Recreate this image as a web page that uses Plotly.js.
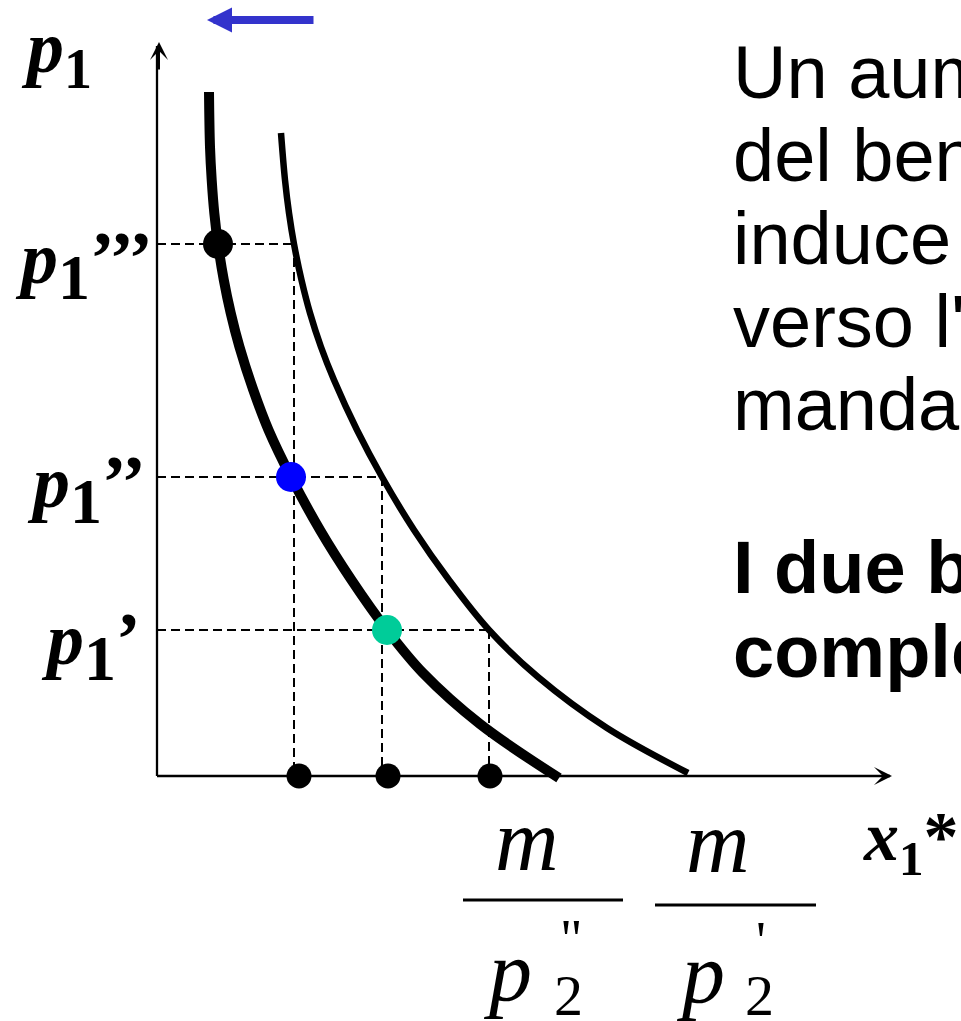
<!DOCTYPE html>
<html>
<head>
<meta charset="utf-8">
<script src="https://cdn.plot.ly/plotly-3.0.1.min.js"></script>
<style>
  html, body { margin: 0; padding: 0; background: #ffffff; overflow: hidden; }
  #chart { width: 961px; height: 1021px; }
</style>
</head>
<body>
<div id="chart"></div>
<script>
// Price levels of good 1: p1', p1'', p1'''
const priceLevels = [1.46, 2.99, 5.32];
// Quantity of good 1 demanded on the original curve (price of good 2 = p2')
const demandOld = [3.32, 2.25, 1.37];
// Quantity of good 1 demanded on the shifted curve (price of good 2 = p2'')
const demandNew = [2.30, 1.34, 0.61];
// Quantities marked on the horizontal axis
const axisQuantities = [1.42, 2.31, 3.33];
// Colours of the optima on the shifted curve (p1', p1'', p1''')
const optimumColors = ['#00CC99', '#0000FF', '#000000'];

// Demand curve of good 1 with p2' (thin)
const oldCurveX = [1.24, 1.28, 1.32, 1.37, 1.445, 1.53, 1.64, 1.77, 2.00, 2.25, 2.57, 2.92, 3.32, 3.81, 4.50, 5.31];
const oldCurveY = [6.43, 5.96, 5.63, 5.32, 4.96, 4.63, 4.29, 3.96, 3.46, 2.99, 2.46, 1.96, 1.46, 0.99, 0.48, 0.03];
// Demand curve of good 1 with p2'' > p2' (thick)
const newCurveX = [0.52, 0.53, 0.547, 0.573, 0.61, 0.668, 0.737, 0.825, 0.963, 1.115, 1.34, 1.63, 1.945, 2.30, 2.66, 3.23, 4.02];
const newCurveY = [6.84, 6.29, 5.96, 5.63, 5.32, 4.96, 4.63, 4.29, 3.86, 3.46, 2.99, 2.46, 1.96, 1.46, 1.03, 0.52, -0.02];

// Axis extents
const xAxisEnd = 7.33;
const yAxisEnd = 7.30;

const serif = 'Liberation Serif, Times New Roman, serif';
const sans = 'Liberation Sans, Arial, sans-serif';

const traces = [
  {
    x: oldCurveX, y: oldCurveY, type: 'scatter', mode: 'lines',
    line: { color: '#000000', width: 6.5, shape: 'spline', smoothing: 1 },
    hoverinfo: 'skip'
  },
  {
    x: newCurveX, y: newCurveY, type: 'scatter', mode: 'lines',
    line: { color: '#000000', width: 10, shape: 'spline', smoothing: 1 },
    hoverinfo: 'skip'
  },
  {
    x: axisQuantities, y: axisQuantities.map(() => 0), type: 'scatter', mode: 'markers',
    marker: { color: '#000000', size: 25 }, cliponaxis: false, hoverinfo: 'skip'
  },
  {
    x: demandNew, y: priceLevels, type: 'scatter', mode: 'markers',
    marker: { color: optimumColors, size: 30 }, cliponaxis: false, hoverinfo: 'skip'
  }
];

// Dashed guides: price level across to the original curve, then down to the axis
const dash = { color: '#000000', width: 2, dash: '9px,5px' };
const shapes = [];
priceLevels.forEach((p, i) => {
  shapes.push({ type: 'line', xref: 'x', yref: 'y', x0: 0, y0: p, x1: demandOld[i], y1: p, line: dash, layer: 'below' });
  shapes.push({ type: 'line', xref: 'x', yref: 'y', x0: demandOld[i], y0: p, x1: demandOld[i], y1: 0, line: dash, layer: 'below' });
});
// Axes
shapes.push({ type: 'line', xref: 'x', yref: 'y', x0: 0, y0: 0, x1: xAxisEnd, y1: 0, line: { color: '#000', width: 2.3 } });
shapes.push({ type: 'line', xref: 'x', yref: 'y', x0: 0, y0: 0, x1: 0, y1: yAxisEnd, line: { color: '#000', width: 2.3 } });
// Fraction bars under m
shapes.push({ type: 'line', xref: 'x', yref: 'y', x0: 3.06, y0: -1.24, x1: 4.66, y1: -1.24, line: { color: '#000', width: 3 } });
shapes.push({ type: 'line', xref: 'x', yref: 'y', x0: 4.98, y0: -1.29, x1: 6.59, y1: -1.29, line: { color: '#000', width: 3 } });

function label(text, x, y, size, family, xanchor, color) {
  return {
    text: text, x: x, y: y, xref: 'x', yref: 'y', showarrow: false,
    xanchor: xanchor || 'center', yanchor: 'middle',
    font: { family: family, size: size, color: color || '#000000' }
  };
}

// bold italic p with a bold subscript 1
const p1 = (subSize) => '<i>p</i><sub><span style="font-size:' + subSize + 'px">1</span></sub>';

const annotations = [
  // axis arrowheads
  { x: 0.02, y: 7.34, ax: 0.02, ay: 7.05, xref: 'x', yref: 'y', axref: 'x', ayref: 'y', text: '',
    showarrow: true, arrowhead: 3, arrowsize: 1.5, arrowwidth: 2, arrowcolor: '#000', standoff: 0 },
  { x: 7.35, y: 0, ax: 7.05, ay: 0, xref: 'x', yref: 'y', axref: 'x', ayref: 'y', text: '',
    showarrow: true, arrowhead: 3, arrowsize: 1.5, arrowwidth: 2, arrowcolor: '#000', standoff: 0 },
  // leftward shift arrow
  { x: 0.50, y: 7.56, ax: 1.58, ay: 7.56, xref: 'x', yref: 'y', axref: 'x', ayref: 'y', text: '',
    showarrow: true, arrowhead: 2, arrowsize: 0.625, arrowwidth: 8, arrowcolor: '#3333CC', standoff: 0 },

  // axis titles and price levels
  label('<b>' + p1(56) + '</b>', -1.38, 7.23, 74, serif, 'left'),
  label('<b>' + p1(64) + '’’’</b>', -0.02, 5.11, 74, serif, 'right'),
  label('<b>' + p1(64) + '’’</b>', -0.09, 2.87, 74, serif, 'right'),
  label('<b>' + p1(64) + '’</b>', -0.14, 1.30, 74, serif, 'right'),
  label('<b><i>x</i><sub>1</sub>*</b>', 7.04, -0.66, 70, serif, 'left'),

  // m / p2''
  label('<i>m</i>', 3.70, -0.64, 88, serif),
  label('<i>p</i>', 3.50, -1.95, 86, serif),
  label('2', 4.11, -2.19, 58, serif),
  label('"', 4.14, -1.62, 55, serif),
  // m / p2'
  label('<i>m</i>', 5.61, -0.66, 88, serif),
  label('<i>p</i>', 5.43, -1.97, 86, serif),
  label('2', 6.02, -2.19, 58, serif),
  label("'", 6.04, -1.64, 55, serif),

  // explanatory text
  label('Un aumento del prezzo', 5.74, 7.04, 74, sans, 'left'),
  label('del bene 2', 5.74, 6.21, 74, sans, 'left'),
  label('induce uno spostamento', 5.74, 5.38, 74, sans, 'left'),
  label("verso l'interno della do-", 5.74, 4.55, 74, sans, 'left'),
  label('manda del bene 1', 5.74, 3.72, 74, sans, 'left'),
  label('<b>I due beni sono</b>', 5.74, 2.09, 74, sans, 'left'),
  label('<b>complementi perfetti</b>', 5.74, 1.25, 74, sans, 'left')
];

const layout = {
  width: 961, height: 1021,
  margin: { l: 0, r: 0, t: 0, b: 0, pad: 0 },
  paper_bgcolor: '#ffffff', plot_bgcolor: '#ffffff',
  showlegend: false,
  xaxis: { range: [-1.57, 8.04], visible: false, fixedrange: true },
  yaxis: { range: [-2.45, 7.76], visible: false, fixedrange: true },
  shapes: shapes,
  annotations: annotations
};

Plotly.newPlot('chart', traces, layout, { staticPlot: true, displayModeBar: false });
</script>
</body>
</html>
